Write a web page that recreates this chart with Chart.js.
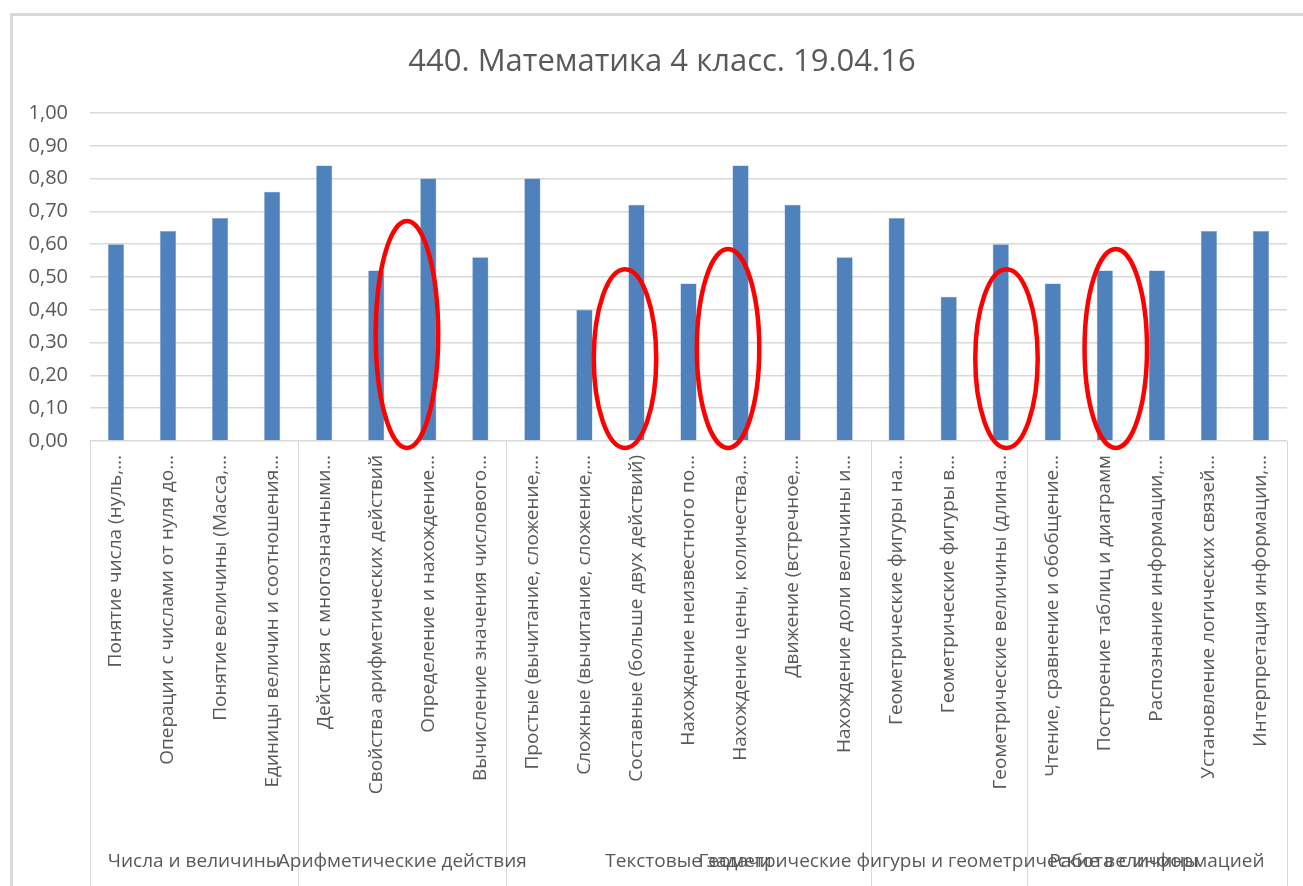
<!DOCTYPE html>
<html>
<head>
<meta charset="utf-8">
<script src="https://cdn.jsdelivr.net/npm/chart.js@4"></script>
<style>
  html, body { margin: 0; padding: 0; background: #fff; }
  #wrap { position: absolute; left: 0; top: 0; width: 1303px; height: 886px; }
  #frame { position: absolute; left: 10px; top: 13px; width: 1303px; height: 886px;
           border-left: 3px solid #d9d9d9; border-top: 3px solid #d9d9d9; }
</style>
</head>
<body>
<div id="frame"></div>
<div id="wrap"><canvas id="mathChart" width="1303" height="886"></canvas></div>
<script>
// Подписи категорий (как они видны на диаграмме, с обрезкой)
const categories = [
  'Понятие числа (нуль,…',
  'Операции с числами от нуля до…',
  'Понятие величины (Масса,…',
  'Единицы величин и соотношения…',
  'Действия с многозначными…',
  'Свойства арифметических действий',
  'Определение и нахождение…',
  'Вычисление значения числового…',
  'Простые (вычитание, сложение,…',
  'Сложные (вычитание, сложение,…',
  'Составные (больше двух действий)',
  'Нахождение неизвестного по…',
  'Нахождение цены, количества,…',
  'Движение (встречное,…',
  'Нахождение доли величины и…',
  'Геометрические фигуры на…',
  'Геометрические фигуры в…',
  'Геометрические величины (длина…',
  'Чтение, сравнение и обобщение…',
  'Построение таблиц и диаграмм',
  'Распознание информации,…',
  'Установление логических связей…',
  'Интерпретация информации,…'
];

const values = [0.60, 0.64, 0.68, 0.76, 0.84, 0.52, 0.80, 0.56, 0.80, 0.40, 0.72, 0.48,
                0.84, 0.72, 0.56, 0.68, 0.44, 0.60, 0.48, 0.52, 0.52, 0.64, 0.64];

// Группы верхнего уровня оси и число категорий в каждой
const groupNames = ['Числа и величины', 'Арифметические действия', 'Текстовые задачи',
                    'Геометрические фигуры и геометрические величины', 'Работа с информацией'];
const groupSizes = [4, 4, 7, 3, 5];

const yTicks = [0, 0.1, 0.2, 0.3, 0.4, 0.5, 0.6, 0.7, 0.8, 0.9, 1.0];

const chartTitle = '440. Математика 4 класс. 19.04.16';

// Красные овалы-пометки: центр по категории, верх и низ по значению
const highlightX = [5.59, 9.78, 11.76, 17.11, 19.21];
const highlightTop = [0.671, 0.524, 0.585, 0.524, 0.585];
const highlightBottom = [-0.021, -0.021, -0.021, -0.021, -0.021];

const textColor = '#595959';
const lineColor = '#d9d9d9';
const fontFamily = "'Open Sans', 'Liberation Sans', sans-serif";

// заголовок рисуем сами, чтобы поставить его как в Excel
const titlePlugin = {
  id: 'titlePlugin',
  afterDraw(chart) {
    const ctx = chart.ctx;
    ctx.save();
    ctx.fillStyle = textColor;
    ctx.font = '31px ' + fontFamily;
    ctx.textAlign = 'center';
    ctx.textBaseline = 'middle';
    ctx.fillText(chartTitle, 662, 62);
    ctx.restore();
  }
};

// многоуровневая ось: линии групп и их подписи
const groupAxis = {
  id: 'groupAxis',
  afterDraw(chart) {
    const ctx = chart.ctx;
    const x = chart.scales.x;
    const area = chart.chartArea;
    const bottom = chart.height;
    ctx.save();
    ctx.strokeStyle = lineColor;
    ctx.lineWidth = 1;
    const edges = [area.left];
    let start = 0;
    groupSizes.forEach(n => {
      start += n;
      edges.push(start < categories.length ? x.getPixelForValue(start - 0.5) : area.right);
    });
    edges.forEach(px => {
      ctx.beginPath();
      ctx.moveTo(Math.round(px) + 0.5, area.bottom);
      ctx.lineTo(Math.round(px) + 0.5, bottom);
      ctx.stroke();
    });
    ctx.fillStyle = textColor;
    ctx.font = '19px ' + fontFamily;
    ctx.textAlign = 'center';
    ctx.textBaseline = 'middle';
    groupNames.forEach((name, i) => {
      ctx.fillText(name, (edges[i] + edges[i + 1]) / 2, 862);
    });
    ctx.restore();
  }
};

const highlights = {
  id: 'highlights',
  afterDatasetsDraw(chart) {
    const ctx = chart.ctx;
    const x = chart.scales.x;
    const y = chart.scales.y;
    const halfW = (x.getPixelForValue(1) - x.getPixelForValue(0)) * 0.6;
    ctx.save();
    ctx.strokeStyle = '#ff0000';
    ctx.lineWidth = 4.5;
    highlightX.forEach((cx, i) => {
      const top = y.getPixelForValue(highlightTop[i]);
      const bot = y.getPixelForValue(highlightBottom[i]);
      ctx.beginPath();
      ctx.ellipse(x.getPixelForValue(cx), (top + bot) / 2, halfW, (bot - top) / 2, 0, 0, Math.PI * 2);
      ctx.stroke();
    });
    ctx.restore();
  }
};

new Chart(document.getElementById('mathChart'), {
  type: 'bar',
  data: {
    labels: categories,
    datasets: [{
      data: values,
      backgroundColor: '#4f81bd',
      borderColor: '#7aa0cf',
      borderWidth: 0.5,
      barPercentage: 0.31,
      categoryPercentage: 1
    }]
  },
  options: {
    responsive: false,
    animation: false,
    layout: { padding: { left: 0, right: 16, top: 113, bottom: 0 } },
    plugins: {
      legend: { display: false },
      tooltip: { enabled: false },
      title: { display: false }
    },
    scales: {
      x: {
        grid: { display: false },
        border: { display: false },
        ticks: {
          autoSkip: false,
          minRotation: 90,
          maxRotation: 90,
          padding: 6,
          color: textColor,
          font: { family: fontFamily, size: 19 }
        },
        afterFit(s) { s.height = 445; }
      },
      y: {
        min: 0,
        max: 1,
        afterBuildTicks(s) { s.ticks = yTicks.map(v => ({ value: v })); },
        grid: { color: lineColor, lineWidth: 1.5, drawTicks: false },
        border: { display: false },
        ticks: {
          padding: 22,
          color: textColor,
          font: { family: fontFamily, size: 20 },
          callback: v => v.toFixed(2).replace('.', ',')
        },
        afterFit(s) { s.width = 90; }
      }
    }
  },
  plugins: [groupAxis, highlights, titlePlugin]
});
</script>
</body>
</html>
